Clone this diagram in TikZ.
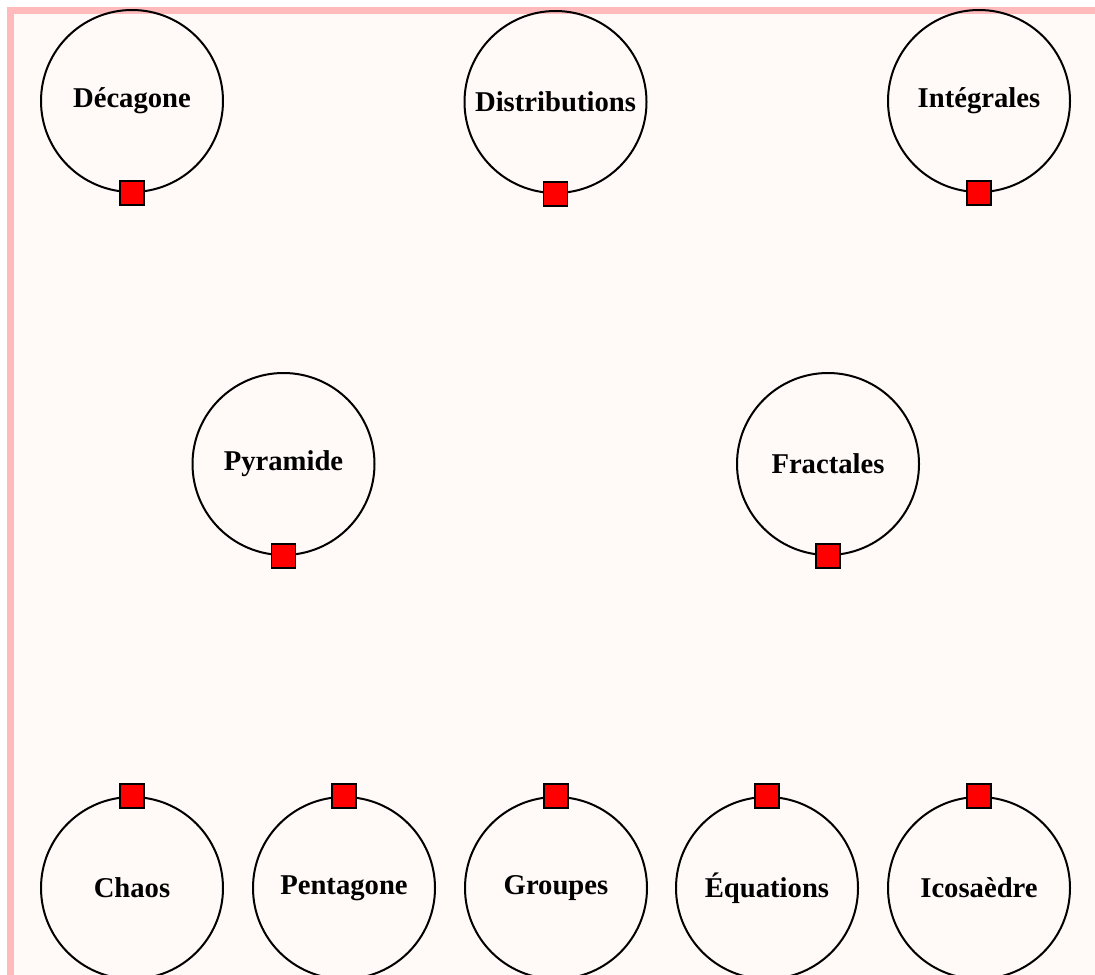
\documentclass[tikz,border=0pt]{standalone}
\usepackage{fontspec}
\setmainfont{Liberation Serif}
\definecolor{bord}{RGB}{255,187,187}
\definecolor{bgc}{RGB}{255,249,248}
\begin{document}
\begin{tikzpicture}[x=0.75pt,y=-0.75pt,
  topic/.style={circle,draw=black,line width=1.5pt,minimum size=136.5pt,inner sep=0pt,font=\fontsize{21.5}{25}\selectfont\bfseries},
  port/.style={rectangle,draw=black,line width=1.1pt,fill=red,minimum size=18pt,inner sep=0pt}]
\useasboundingbox (0,0) rectangle (1095,974);
\clip (0,0) rectangle (1095,974);
\fill[white] (0,0) rectangle (1095,974);
\draw[bord,fill=bgc,line width=5.25pt] (10.5,10.5) rectangle (1110,990);
% top row
\node[topic] (dec) at (132,101) {Décagone};
\node[topic] (dis) at (555.5,102) {Distributions};
\node[topic] (int) at (979,101) {Intégrales};
% middle row
\node[topic] (pyr) at (283.5,464) {Pyramide};
\node[topic] (fra) at (828,464) {Fractales};
% bottom row
\node[topic] (cha) at (132,888) {Chaos};
\node[topic] (pen) at (344,888) {Pentagone};
\node[topic] (gro) at (556,888) {Groupes};
\node[topic] (equ) at (767,888) {Équations};
\node[topic] (ico) at (979,888) {Icosaèdre};
% ports
\node[port] (pdec) at (dec.south) {};
\node[port] (pdis) at (dis.south) {};
\node[port] (pint) at (int.south) {};
\node[port] (ppyr) at (pyr.south) {};
\node[port] (pfra) at (fra.south) {};
\node[port] (pcha) at (cha.north) {};
\node[port] (ppen) at (pen.north) {};
\node[port] (pgro) at (gro.north) {};
\node[port] (pequ) at (equ.north) {};
\node[port] (pico) at (ico.north) {};
\end{tikzpicture}
\end{document}
